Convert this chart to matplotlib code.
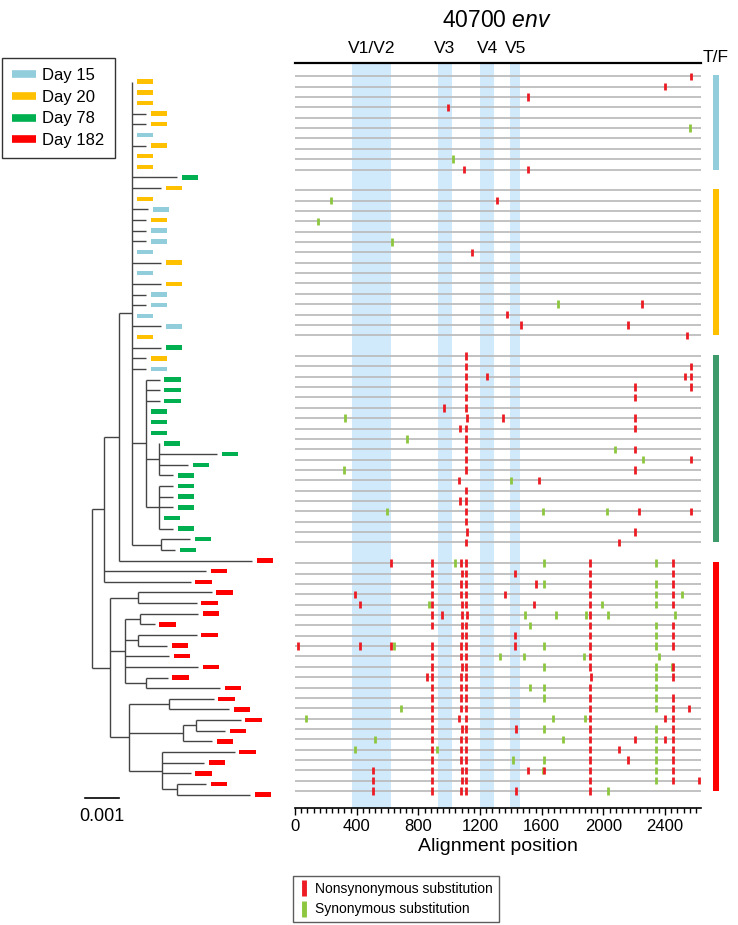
#!/usr/bin/env python3
"""Phylogeny + highlighter plot of 40700 env sequences, coloured by sampling day."""

import matplotlib
matplotlib.use("Agg")
import matplotlib.pyplot as plt
from matplotlib.lines import Line2D
from matplotlib.patches import Rectangle
from matplotlib.ticker import MultipleLocator

plt.rcParams["font.family"] = ["Liberation Sans", "DejaVu Sans"]
plt.rcParams["mathtext.fontset"] = "custom"
plt.rcParams["mathtext.rm"] = "Liberation Sans"
plt.rcParams["mathtext.it"] = "Liberation Sans:italic"

# ---------------------------------------------------------------- data
days = [15, 20, 78, 182]
day_labels = ["Day 15", "Day 20", "Day 78", "Day 182"]

# tree (branch lengths in substitutions/site), tips listed top to bottom
newick = (
    "(((("
    "t1:0,t2:0,t3:0,t4:0.00041,t5:0.00041,t6:0,t7:0.00041,t8:0,t9:0,"
    "t10:0.00131,t11:0.00085,t12:0,t13:0.00046,t14:0.00041,t15:0.00041,"
    "t16:0.00041,t17:0,t18:0.00085,t19:0,t20:0.00085,t21:0.00041,"
    "t22:0.00041,t23:0,t24:0.00085,t25:0,t26:0.00085,t27:0.00041,"
    "t28:0.00041,"
    "(t29:0.0004,t30:0.0004,t31:0.0004,t32:0,t33:0,t34:0,"
    "(t35:0,t36:0.00171,t37:0.00085,t38:0.00041):0.00039,"
    "(t39:0.00041,t40:0.00041,t41:0.00041,t42:0,t43:0.00041):0.00039"
    "):0.0004,"
    "(t44:0.00086,t45:0.00041):0.00084"
    "):0.00039,t46:0.00391):0.00045,t47:0.0030,t48:0.00255):0.00034,"
    "("
    "(t49:0.00216,t50:0.00172):0.00084,"
    "((t51:0.00171,t52:0.00042):0.00044,(t53:0.00172,t54:0.00086):0.00038,"
    "t55:0.0013,t56:0.00215,(t57:0.00063,t58:0.00216):0.00062):0.00046,"
    "((t59:0.0013,t60:0.00175):0.00119,"
    "((t61:0.0013,t62:0.00085):0.00039,t63:0.00085):0.00159,"
    "(t64:0.00215,t65:0.00125,t66:0.00085,"
    "(t67:0.00085,t68:0.00216):0.00045):0.00096):0.00057"
    "):0.00051);"
)
tip_days = ([20, 20, 20, 20, 20, 15, 20, 20, 20, 78, 20, 20, 15, 20, 15,
             15, 15, 20, 15, 20, 15, 15, 15, 15, 20, 78, 20, 15]
            + [78] * 17 + [182] * 23)

# env variable regions (alignment coordinates)
region_names = ["V1/V2", "V3", "V4", "V5"]
region_start = [370, 928, 1200, 1397]
region_end = [623, 1018, 1291, 1459]

# highlighter: one list per sequence, grouped by sampling day
nonsyn_d15 = [[2566], [2398], [1513], [990], [], [], [], [], [], [1098, 1511]]
syn_d15 = [[], [], [], [], [], [2560], [], [], [1023], []]

nonsyn_d20 = [[], [1312], [], [], [], [], [1150], [], [], [], [],
              [2248], [1377], [1468, 2162], [2543]]
syn_d20 = [[], [233], [], [147], [], [629], [], [], [], [], [],
           [1708], [], [], []]

nonsyn_d78 = [[1111], [1111, 2566], [1111, 1247, 2528, 2566],
              [1111, 2207, 2566], [1111, 2207], [964, 1111],
              [1116, 1351, 2207], [1068, 1111, 2207], [1111], [1111, 2207],
              [1111, 2566], [1111, 2207], [1066, 1580], [1111], [1068, 1111],
              [1111, 2229, 2566], [1111], [1116, 2205], [1111, 2104]]
syn_d78 = [[], [], [], [], [], [], [327], [], [729], [2078], [2259], [316],
           [1403], [], [], [599, 1606, 2022], [], [], []]

nonsyn_d182 = [
    [621, 889, 1077, 1111, 1913, 2454],
    [889, 1085, 1111, 1429, 1913, 2454],
    [889, 1077, 1111, 1565, 1913, 2454],
    [391, 889, 1077, 1111, 1364, 1915, 2454],
    [424, 889, 1085, 1111, 1550, 1913, 2454],
    [889, 956, 1085, 1118, 1913],
    [889, 1085, 1111, 1913, 2454],
    [1085, 1111, 1429, 1915, 2454],
    [19, 424, 621, 889, 1077, 1111, 1429, 1913, 2454],
    [889, 1077, 1111, 1913],
    [889, 1085, 1111, 1913, 2454],
    [858, 889, 1077, 1111, 1920, 2454],
    [889, 1077, 1111, 1915],
    [889, 1077, 1111, 1915, 2454],
    [889, 1077, 1111, 1915, 2454, 2556],
    [889, 1066, 1111, 1913, 2402, 2454],
    [889, 1085, 1111, 1431, 1915, 2454],
    [889, 1077, 1111, 1913, 2203, 2402, 2454],
    [889, 1077, 1111, 1915, 2104, 2454],
    [889, 1077, 1111, 1913, 2160, 2454],
    [508, 889, 1085, 1111, 1513, 1617, 1913, 2454],
    [508, 889, 1085, 1111, 1913, 2454, 2622],
    [508, 889, 1077, 1111, 1431, 1913],
]
syn_d182 = [
    [1040, 1613, 2341], [], [1613, 2341], [2341, 2508], [869, 1993, 2341],
    [1492, 1695, 1887, 2032, 2467], [1526, 2341], [2341], [640, 1613, 2341],
    [1332, 1485, 1872, 2359], [1613, 2341, 2445], [2341], [1526, 1613, 2341],
    [1613, 2341], [690, 2341], [74, 1676, 1883], [1613, 2341],
    [519, 1740, 2341], [391, 921, 2341], [1416, 1613, 2341], [1611, 2341],
    [2341], [2032],
]

nonsyn_groups = [nonsyn_d15, nonsyn_d20, nonsyn_d78, nonsyn_d182]
syn_groups = [syn_d15, syn_d20, syn_d78, syn_d182]

# ---------------------------------------------------------------- styles
DAY_COLORS = {15: "#92CDDC", 20: "#FFC000", 78: "#00B050", 182: "#FF0000"}
TF_COLORS = {15: "#92CDDC", 20: "#FFC000", 78: "#3D9A6A", 182: "#FF0000"}
NONSYN_COLOR = "#ED1C24"
SYN_COLOR = "#8DC63F"
BAND_COLOR = "#D0E9FB"
W, H = 738, 925


def fig_rect(x0, y0, x1, y1):
    """Pixel box (top-left origin) -> figure fraction rect."""
    return [x0 / W, 1 - y1 / H, (x1 - x0) / W, (y1 - y0) / H]


def parse_newick(s):
    pos = 0

    def node():
        nonlocal pos
        children = []
        if s[pos] == "(":
            pos += 1
            while True:
                children.append(node())
                ch = s[pos]
                pos += 1
                if ch == ")":
                    break
        start = pos
        while s[pos] not in ",);":
            pos += 1
        name, _, length = s[start:pos].partition(":")
        return {"name": name, "len": float(length) if length else 0.0,
                "children": children}

    return node()


def layout(node, x0, tips):
    node["x"] = x0 + node["len"]
    if not node["children"]:
        node["y"] = len(tips)
        tips.append(node)
        return
    for c in node["children"]:
        layout(c, node["x"], tips)
    node["y"] = (node["children"][0]["y"] + node["children"][-1]["y"]) / 2


def draw_tree(ax, node):
    kids = node["children"]
    if not kids:
        return
    ax.plot([node["x"], node["x"]], [kids[0]["y"], kids[-1]["y"]],
            color="#444444", lw=1.0, solid_capstyle="butt")
    for c in kids:
        if c["len"] > 0:
            ax.plot([node["x"], c["x"]], [c["y"], c["y"]],
                    color="#444444", lw=1.0, solid_capstyle="butt")
        draw_tree(ax, c)


fig = plt.figure(figsize=(W / 100, H / 100), dpi=100)

# ---------------------------------------------------------------- tree
px_per_unit = 34 / 0.001          # scale bar 0.001 = 34 px
tree_ax = fig.add_axes(fig_rect(75, 60, 300, 830))
tree_ax.set_xlim(-17.3 / px_per_unit, 207.7 / px_per_unit)
tree_ax.set_ylim((830 - 81.7) / 10.64, (60 - 81.7) / 10.64)
tree_ax.axis("off")

root = parse_newick(newick)
tips = []
layout(root, 0.0, tips)
draw_tree(tree_ax, root)

bar_gap = 4.7 / px_per_unit
bar_len = 16.3 / px_per_unit
tree_ax.barh([t["y"] for t in tips], bar_len,
             left=[t["x"] + bar_gap for t in tips], height=0.42,
             color=[DAY_COLORS[d] for d in tip_days], linewidth=0)

# scale bar
sb_y = len(tips) - 1 + 0.3
sb_x0 = -7.3 / px_per_unit
tree_ax.plot([sb_x0, sb_x0 + 0.001], [sb_y, sb_y],
             color="black", lw=1.2, clip_on=False)
tree_ax.text(sb_x0 + 0.0005, sb_y + 0.95, "0.001",
             ha="center", va="top", fontsize=13)

# ---------------------------------------------------------------- highlighter
ax = fig.add_axes(fig_rect(295, 63.35, 700.7, 807.7))
ax.set_xlim(0, 2631)
ax.set_ylim(70.6, -1.25)

for s, e in zip(region_start, region_end):
    ax.axvspan(s, e, color=BAND_COLOR, lw=0, zorder=0)

row = 0
ns_x, ns_y, sy_x, sy_y, row_ys = [], [], [], [], []
group_rows = []
for ns_group, sy_group in zip(nonsyn_groups, syn_groups):
    first = row
    for ns, sy in zip(ns_group, sy_group):
        row_ys.append(row)
        ns_x += ns
        ns_y += [row] * len(ns)
        sy_x += sy
        sy_y += [row] * len(sy)
        row += 1
    group_rows.append((first, row - 1))
    row += 1  # blank row between groups

ax.hlines(row_ys, 0, 2631, color="#BDBDBD", lw=1.3, zorder=1)
ax.vlines(sy_x, [y - 0.36 for y in sy_y], [y + 0.36 for y in sy_y],
          color=SYN_COLOR, lw=2.0, zorder=2)
ax.vlines(ns_x, [y - 0.36 for y in ns_y], [y + 0.36 for y in ns_y],
          color=NONSYN_COLOR, lw=2.0, zorder=3)

# T/F column
for d, (first, last) in zip(days, group_rows):
    ax.add_patch(Rectangle((2709, first - 0.1), 43, last - first + 0.1,
                           color=TF_COLORS[d], lw=0, clip_on=False))
ax.text(2646, -1.8, "T/F", ha="left", va="center", fontsize=12.5)

# region labels and title
for name, s, e in zip(region_names, region_start, region_end):
    ax.text((s + e) / 2, -2.7, name, ha="center", va="center", fontsize=12.5)
ax.text(1308, -5.4, r"40700 $\mathit{env}$", ha="center", va="center",
        fontsize=16.5)

for side in ("left", "right"):
    ax.spines[side].set_visible(False)
ax.spines["top"].set_linewidth(1.6)
ax.spines["bottom"].set_linewidth(1.2)
ax.set_yticks([])
ax.xaxis.set_major_locator(MultipleLocator(400))
ax.xaxis.set_minor_locator(MultipleLocator(40))
ax.tick_params(axis="x", which="major", direction="out", length=5, width=1,
               labelsize=12, pad=3)
ax.tick_params(axis="x", which="minor", direction="out", length=3.5, width=1)
ax.set_xlabel("Alignment position", fontsize=14, labelpad=3)

# ---------------------------------------------------------------- legends
day_handles = [Line2D([], [], color=DAY_COLORS[d], lw=5.5,
                      solid_capstyle="butt") for d in days]
fig.legend(day_handles, day_labels, loc="upper left",
           bbox_to_anchor=(2 / W, 1 - 57.7 / H), borderaxespad=0,
           fontsize=12, frameon=True, fancybox=False, edgecolor="black",
           handlelength=1.4, handletextpad=0.4, labelspacing=0.4,
           borderpad=0.62)

sub_handles = [Line2D([], [], ls="none", marker="|", ms=11, mew=3.5,
                      color=c) for c in (NONSYN_COLOR, SYN_COLOR)]
fig.legend(sub_handles, ["Nonsynonymous substitution", "Synonymous substitution"],
           loc="upper left", bbox_to_anchor=(293 / W, 1 - 876 / H),
           borderaxespad=0, fontsize=10, frameon=True, fancybox=False,
           edgecolor="#333333", handlelength=0.8, handletextpad=0.4,
           labelspacing=0.5, borderpad=0.4)

fig.savefig("out.png", dpi=100)
